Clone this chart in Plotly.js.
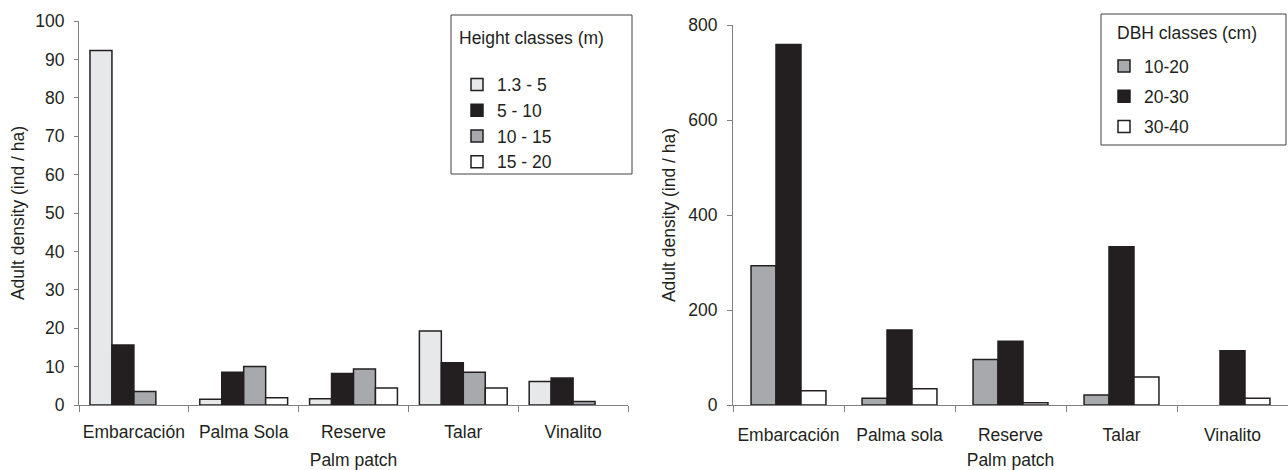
<!DOCTYPE html>
<html>
<head>
<meta charset="utf-8">
<script src="https://cdn.plot.ly/plotly-3.0.1.min.js"></script>
<style>
html,body{margin:0;padding:0;background:#fff;}
#chart{width:1288px;height:470px;}
</style>
</head>
<body>
<div id="chart"></div>
<script>
// ---- Data (left panel: height classes) ----
const patchesLeft = ['Embarcación', 'Palma Sola', 'Reserve', 'Talar', 'Vinalito'];
const heightClassNames = ['1.3 - 5', '5 - 10', '10 - 15', '15 - 20'];
const height_1_3_5 = [92.3, 1.5, 1.6, 19.3, 6.1];
const height_5_10 = [15.6, 8.5, 8.2, 11.0, 7.0];
const height_10_15 = [3.5, 10.0, 9.4, 8.5, 0.9];
const height_15_20 = [0, 1.9, 4.4, 4.4, 0];

// ---- Data (right panel: DBH classes) ----
const patchesRight = ['Embarcación', 'Palma sola', 'Reserve', 'Talar', 'Vinalito'];
const dbhClassNames = ['10-20', '20-30', '30-40'];
const dbh_10_20 = [293, 14, 96, 21, 0];
const dbh_20_30 = [759, 158, 134, 333, 114];
const dbh_30_40 = [30, 34, 5, 59, 14];

const leftTickVals = [0, 10, 20, 30, 40, 50, 60, 70, 80, 90, 100];
const rightTickVals = [0, 200, 400, 600, 800];

// ---- Styling ----
const W = 1288, H = 470;
const INK = '#231f20';
const AXIS = '#808080';
const FONT = 'Liberation Sans, Arial, sans-serif';
const FS = 17.5;
const leftColors = ['#e7e8ea', '#231f20', '#a7a9ac', '#ffffff'];
const rightColors = ['#a7a9ac', '#231f20', '#ffffff'];

const px = v => v / W;
const py = v => 1 - v / H;

const leftSeries = [height_1_3_5, height_5_10, height_10_15, height_15_20];
const rightSeries = [dbh_10_20, dbh_20_30, dbh_30_40];

const traces = [];
leftSeries.forEach((vals, i) => {
  traces.push({
    type: 'bar', x: patchesLeft, y: vals.map(v => v === 0 ? null : v),
    name: heightClassNames[i], xaxis: 'x', yaxis: 'y', legend: 'legend',
    legendgroup: 'h' + i,
    marker: {color: leftColors[i], line: {color: INK, width: 1.5}},
    hoverinfo: 'x+y+name'
  });
});
const rw = 0.225;
rightSeries.forEach((vals, i) => {
  traces.push({
    type: 'bar', x: patchesRight, y: vals.map(v => v === 0 ? null : v),
    name: dbhClassNames[i], xaxis: 'x2', yaxis: 'y2', legend: 'legend2',
    legendgroup: 'd' + i,
    width: rw, offset: -1.5 * rw + i * rw,
    marker: {color: rightColors[i], line: {color: INK, width: 1.5}},
    hoverinfo: 'x+y+name'
  });
});

const axisCommon = {
  showgrid: false, zeroline: false, showline: true, linecolor: AXIS, linewidth: 1,
  ticks: 'outside', tickcolor: AXIS, tickwidth: 1,
  tickfont: {family: FONT, size: FS, color: INK},
  fixedrange: true
};

const layout = {
  width: W, height: H,
  margin: {l: 0, r: 0, t: 0, b: 0, autoexpand: false},
  paper_bgcolor: '#fff', plot_bgcolor: '#fff',
  font: {family: FONT, size: FS, color: INK},
  barmode: 'group', bargap: 0.2, bargroupgap: 0,
  xaxis: Object.assign({}, axisCommon, {
    domain: [px(79), px(628)], anchor: 'y',
    tickson: 'boundaries', ticklen: 6, ticklabelstandoff: 11, tickangle: 0,
    title: {text: 'Palm patch', font: {family: FONT, size: FS, color: INK}, standoff: 15}
  }),
  yaxis: Object.assign({}, axisCommon, {
    domain: [py(405), py(21)], anchor: 'x', range: [0, 100],
    tickvals: leftTickVals, ticklen: 4, ticklabelstandoff: 6,
    title: {text: 'Adult density (ind / ha)', font: {family: FONT, size: FS, color: INK}, standoff: 6}
  }),
  xaxis2: Object.assign({}, axisCommon, {
    domain: [px(733), 1], anchor: 'y2',
    tickson: 'boundaries', ticklen: 6, ticklabelstandoff: 14, tickangle: 0,
    title: {text: 'Palm patch', font: {family: FONT, size: FS, color: INK}, standoff: 11}
  }),
  yaxis2: Object.assign({}, axisCommon, {
    domain: [py(405), py(25)], anchor: 'x2', range: [0, 800],
    tickvals: rightTickVals, ticklen: 5, ticklabelstandoff: 6,
    title: {text: 'Adult density (ind / ha)', font: {family: FONT, size: FS, color: INK}, standoff: 8}
  }),
  legend: {
    x: px(457), y: py(21), xanchor: 'left', yanchor: 'top',
    bgcolor: 'rgba(0,0,0,0)', borderwidth: 0,
    font: {family: FONT, size: FS, color: INK},
    title: {text: 'Height classes (m)<br> ', font: {family: FONT, size: FS, color: INK}},
    tracegroupgap: 0, traceorder: 'normal'
  },
  legend2: {
    x: px(1104), y: py(48), xanchor: 'left', yanchor: 'top',
    bgcolor: 'rgba(0,0,0,0)', borderwidth: 0,
    font: {family: FONT, size: FS, color: INK},
    tracegroupgap: 4.5, traceorder: 'grouped'
  },
  annotations: [
    {xref: 'paper', yref: 'paper', x: px(1115), y: py(33), xanchor: 'left', yanchor: 'middle',
     text: 'DBH classes (cm)', showarrow: false, font: {family: FONT, size: FS, color: INK}}
  ],
  shapes: [
    {type: 'rect', xref: 'paper', yref: 'paper', x0: px(451), x1: px(632), y0: py(174), y1: py(15),
     line: {color: '#404040', width: 1}, fillcolor: 'rgba(0,0,0,0)', layer: 'below'},
    {type: 'rect', xref: 'paper', yref: 'paper', x0: px(1101), x1: px(1286), y0: py(145), y1: py(14),
     line: {color: '#404040', width: 1}, fillcolor: 'rgba(0,0,0,0)', layer: 'below'}
  ]
};

Plotly.newPlot('chart', traces, layout, {displayModeBar: false, responsive: false});
</script>
</body>
</html>
